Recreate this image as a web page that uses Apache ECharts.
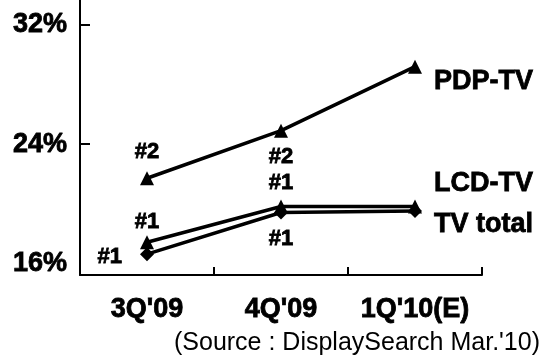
<!DOCTYPE html>
<html>
<head>
<meta charset="utf-8">
<script src="https://cdn.jsdelivr.net/npm/echarts@6/dist/echarts.min.js"></script>
<style>
  html, body { margin: 0; padding: 0; background: #fff; }
  #chart { width: 540px; height: 360px; }
</style>
</head>
<body>
<div id="chart"></div>
<script>
// Quarterly share (%) by product line
const categories = ["3Q'09", "4Q'09", "1Q'10(E)"];
const pdpShare = [21.7, 24.9, 29.2];
const lcdShare = [17.4, 19.8, 19.8];
const totalShare = [16.6, 19.4, 19.5];
// Market rank annotations per quarter
const pdpRank = ['#2', '#2', ''];
const lcdRank = ['#1', '#1', ''];
const totalRank = ['#1', '#1', ''];
const yLabelValues = [16, 24, 32];
const yTickValues = [24, 32];
const sourceNote = "(Source : DisplaySearch Mar.'10)";

const FONT = '"Liberation Sans", Arial, sans-serif';
// Heavy black text used for axis labels and annotations
const heavy = { fontWeight: 'bold', color: '#000', fontFamily: FONT,
  textBorderColor: '#000', textBorderWidth: 0.8 };

// Builds data items: rank label on each quarter, series name beside the last point
function buildData(values, ranks, rankPos, name, nameOffset) {
  return values.map((v, i) => {
    if (i === values.length - 1) {
      return {
        value: v,
        label: Object.assign({
          show: true, position: 'right', distance: 12, offset: [0, nameOffset],
          formatter: name, fontSize: 27
        }, heavy)
      };
    }
    const p = rankPos[i];
    return {
      value: v,
      label: Object.assign({
        show: !!ranks[i], position: p.pos, distance: p.dist, offset: p.off || [0, 0],
        formatter: ranks[i], fontSize: 22
      }, heavy)
    };
  });
}

function lineSeries(name, values, ranks, rankPos, symbol, nameOffset, z) {
  return {
    name: name,
    type: 'line',
    z: z,
    data: buildData(values, ranks, rankPos, name, nameOffset),
    symbol: symbol,
    symbolSize: 14,
    showAllSymbol: true,
    lineStyle: { color: '#000', width: 3.5 },
    itemStyle: { color: '#000' },
    emphasis: { disabled: true }
  };
}

const chart = echarts.init(document.getElementById('chart'), null, { renderer: 'canvas' });
chart.setOption({
  animation: false,
  backgroundColor: '#fff',
  grid: { left: 80, right: 58, top: 0, bottom: 85, containLabel: false },
  xAxis: {
    type: 'category',
    data: categories,
    boundaryGap: true,
    axisLine: { lineStyle: { color: '#000', width: 2 } },
    axisTick: { show: true, inside: true, length: 8, lineStyle: { color: '#000', width: 2 } },
    axisLabel: Object.assign({ interval: 0, margin: 21, fontSize: 27 }, heavy),
    splitLine: { show: false }
  },
  yAxis: {
    type: 'value',
    min: 15.2,
    max: 33.68,
    axisLine: { show: true, lineStyle: { color: '#000', width: 2 } },
    axisTick: { show: true, inside: true, length: 10, customValues: yTickValues,
      lineStyle: { color: '#000', width: 2 } },
    axisLabel: Object.assign({
      customValues: yLabelValues, margin: 13,
      formatter: v => v + '%', fontSize: 27
    }, heavy),
    splitLine: { show: false }
  },
  series: [
    lineSeries('PDP-TV', pdpShare, pdpRank,
      [{ pos: 'top', dist: 8 }, { pos: 'bottom', dist: 8 }], 'triangle', 15, 3),
    lineSeries('LCD-TV', lcdShare, lcdRank,
      [{ pos: 'top', dist: 2 }, { pos: 'top', dist: 6 }], 'triangle', -23, 4),
    lineSeries('TV total', totalShare, totalRank,
      [{ pos: 'left', dist: 18, off: [0, 3] }, { pos: 'bottom', dist: 8 }], 'diamond', 14, 2)
  ],
  graphic: [{
    type: 'text',
    right: 0,
    top: 331,
    style: { text: sourceNote, font: '25px ' + FONT, fill: '#000' }
  }]
});
</script>
</body>
</html>
